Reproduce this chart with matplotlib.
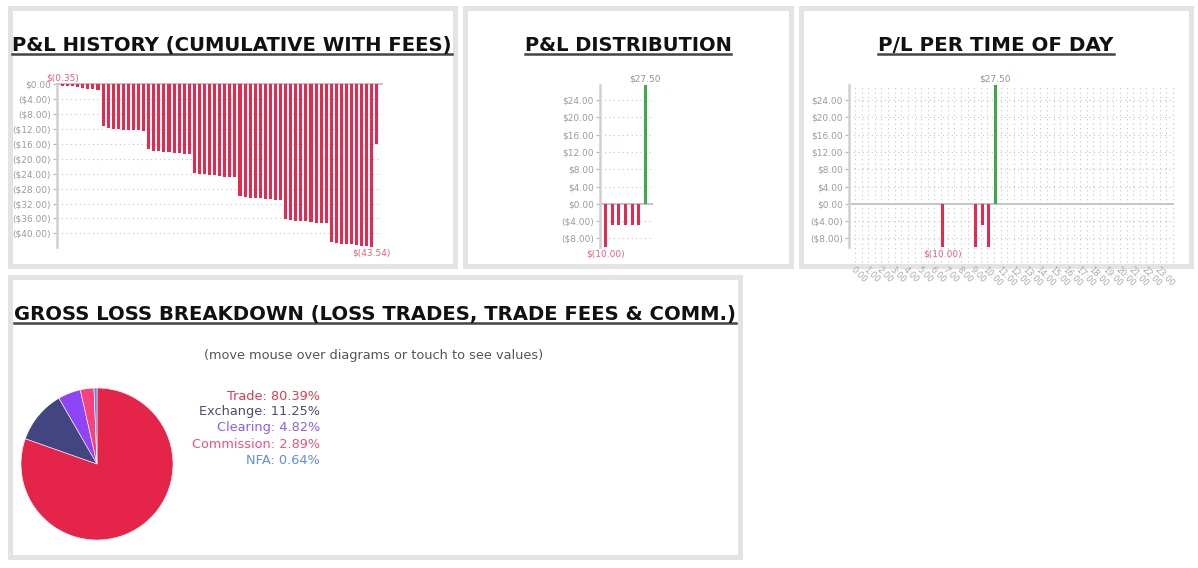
import matplotlib
matplotlib.use('Agg')
import matplotlib.pyplot as plt
import numpy as np
from matplotlib.patches import Rectangle
from matplotlib.lines import Line2D
from matplotlib.ticker import FuncFormatter

# cumulative P&L with fees, one value per trade/fee event
cum_pnl = [
    -0.35, -0.45, -0.55, -0.75, -1.05, -1.15, -1.25, -1.40,
    -11.30, -11.70, -11.90, -11.95, -12.15, -12.30, -12.35, -12.40, -12.45,
    -17.50, -17.80, -18.00, -18.10, -18.20, -18.40, -18.50, -18.60, -18.70,
    -23.80, -24.10, -24.20, -24.30, -24.40, -24.60, -24.80, -24.90, -24.90,
    -30.05, -30.20, -30.40, -30.40, -30.50, -30.80, -30.90, -31.10, -31.10,
    -36.20, -36.50, -36.70, -36.70, -36.80, -37.00, -37.20, -37.30, -37.30,
    -42.40, -42.70, -42.75, -42.80, -42.90, -43.20, -43.35, -43.45, -43.54,
    -16.04,
]
hist_ticks = [0, -4, -8, -12, -16, -20, -24, -28, -32, -36, -40]

dist_values = [-10.0, -5.0, -5.0, -5.0, -5.0, -5.0, 27.5]

tod_hours = [6.5, 9.0, 9.5, 10.0, 10.5]
tod_values = [-10.0, -10.0, -5.0, -10.0, 27.5]
hour_labels = [f'{h}:00' for h in range(24)]
pl_ticks = [-8, -4, 0, 4, 8, 12, 16, 20, 24]

loss_names = ['Trade', 'Exchange', 'Clearing', 'Commission', 'NFA']
loss_pcts = [80.39, 11.25, 4.82, 2.89, 0.64]
loss_colors = ['#e5244a', '#424580', '#8d45f6', '#f7437c', '#4b8ef2']
loss_text_colors = ['#e03a52', '#4a4b78', '#8b5cf6', '#f0507e', '#5b8cf0']

RED = '#e8294f'
GREEN = '#3aab48'
W, H = 1198, 568

fig = plt.figure(figsize=(W / 100, H / 100), dpi=100)
fig.patch.set_facecolor('white')


def px_axes(x0, y0, x1, y1):
    return fig.add_axes([x0 / W, 1 - y1 / H, (x1 - x0) / W, (y1 - y0) / H])


def money_tick(v, pos=None):
    if abs(v) < 1e-9:
        return '$0.00'
    return f'${v:.2f}' if v > 0 else f'(${-v:.2f})'


def money_label(v):
    return f'${v:.2f}' if v >= 0 else f'$({-v:.2f})'


# panel frames
panels = [(7, 5, 457, 268), (462, 5, 793, 268), (798, 5, 1193, 268), (7, 274, 742, 559)]
for x0, y0, x1, y1 in panels:
    fig.add_artist(Rectangle(((x0 + 2.5) / W, 1 - (y1 - 2.5) / H),
                             (x1 - x0 - 5) / W, (y1 - y0 - 5) / H,
                             transform=fig.transFigure, fill=False,
                             ec='#e3e3e3', lw=3.6, zorder=-5))

renderer = fig.canvas.get_renderer()


def title(text, cx, baseline, width):
    t = fig.text(cx / W, 1 - baseline / H, text, ha='center', va='baseline',
                 fontweight='bold', fontsize=14, color='#111111')
    bb = t.get_window_extent(renderer)
    t.set_fontsize(14 * width / bb.width)
    bb = t.get_window_extent(renderer)
    y = 1 - (baseline + 2.5) / H
    fig.add_artist(Line2D([bb.x0 / W, bb.x1 / W], [y, y], transform=fig.transFigure,
                          color='#444444', lw=1.8))


def style(ax, yticks):
    for s in ['top', 'right', 'bottom']:
        ax.spines[s].set_visible(False)
    ax.spines['left'].set_color('#cfcfd6')
    ax.spines['left'].set_linewidth(1.8)
    ax.set_yticks(yticks)
    ax.yaxis.set_major_formatter(FuncFormatter(money_tick))
    ax.tick_params(axis='y', length=3, width=0.9, color='#b8b8c0', labelsize=6.5,
                   labelcolor='#9a9aa4', pad=1.5)
    ax.grid(axis='y', color='#c4c4c4', linestyle=(0, (1, 3)), lw=0.8)
    ax.axhline(0, color='#c4c4c4', lw=1.4, clip_on=False, zorder=1)
    ax.set_facecolor('none')
    ax.set_axisbelow(True)


# P&L history
title('P&L HISTORY (CUMULATIVE WITH FEES)', 232, 51, 440)
ax1 = px_axes(57, 84.3, 382, 246.5)
style(ax1, hist_ticks)
idx = np.arange(len(cum_pnl))
ax1.bar(idx, cum_pnl, width=0.6, color=RED, zorder=2)
ax1.set_xlim(-1.08, 63)
ax1.set_ylim(min(cum_pnl), 0)
ax1.set_xticks([])
imax, imin = int(np.argmax(cum_pnl)), int(np.argmin(cum_pnl))
ax1.annotate(money_label(cum_pnl[imax]), (imax, 0), xytext=(0, 1), textcoords='offset points',
             ha='center', va='bottom', fontsize=6.5, color='#e8607a', annotation_clip=False)
ax1.annotate(money_label(cum_pnl[imin]), (imin, cum_pnl[imin]), xytext=(0, -1.5),
             textcoords='offset points', ha='center', va='top', fontsize=6.5,
             color='#e8607a', annotation_clip=False)

# P&L distribution
title('P&L DISTRIBUTION', 628, 51, 207)
ax2 = px_axes(600, 85, 652, 247)
style(ax2, pl_ticks)
dx = np.arange(len(dist_values))
ax2.bar(dx, dist_values, width=0.45, zorder=2,
        color=[GREEN if v > 0 else RED for v in dist_values])
ax2.set_xlim(-0.86, 7.0)
ax2.set_ylim(-10, 27.5)
ax2.set_xticks([])
jmax, jmin = int(np.argmax(dist_values)), int(np.argmin(dist_values))
ax2.annotate(money_label(dist_values[jmax]), (jmax, dist_values[jmax]), xytext=(0, 1),
             textcoords='offset points', ha='center', va='bottom', fontsize=6.5,
             color='#8a9a88', annotation_clip=False)
ax2.annotate(money_label(dist_values[jmin]), (jmin, dist_values[jmin]), xytext=(0, -1.5),
             textcoords='offset points', ha='center', va='top', fontsize=6.5,
             color='#e8607a', annotation_clip=False)

# P/L per time of day
title('P/L PER TIME OF DAY', 996, 51, 235)
ax3 = px_axes(849, 85, 1173, 247)
style(ax3, pl_ticks)
ax3.set_xlim(-0.45, 24)
ax3.set_ylim(-10, 27.5)
ax3.vlines(np.arange(0, 24.5, 0.5), -13.5, 27.5, colors='#c4c4c4',
           linestyles=(0, (1, 3)), lw=0.8, clip_on=False, zorder=0)
ax3.bar(tod_hours, tod_values, width=0.2, align='edge', zorder=2,
        color=[GREEN if v > 0 else RED for v in tod_values])
ax3.set_xticks(range(24))
ax3.set_xticklabels(hour_labels, rotation=-45, ha='left', va='top', rotation_mode='anchor')
ax3.tick_params(axis='x', length=0, pad=13, labelsize=6, labelcolor='#a8a8b0')
kmax, kmin = int(np.argmax(tod_values)), int(np.argmin(tod_values))
ax3.annotate(money_label(tod_values[kmax]), (tod_hours[kmax] + 0.1, tod_values[kmax]),
             xytext=(0, 1), textcoords='offset points', ha='center', va='bottom',
             fontsize=6.5, color='#8a9a88', annotation_clip=False)
ax3.annotate(money_label(tod_values[kmin]), (tod_hours[kmin] + 0.1, tod_values[kmin]),
             xytext=(0, -1.5), textcoords='offset points', ha='center', va='top',
             fontsize=6.5, color='#e8607a', annotation_clip=False)

# gross loss breakdown
title('GROSS LOSS BREAKDOWN (LOSS TRADES, TRADE FEES & COMM.)', 375, 320, 724)
fig.text(374 / W, 1 - 356 / H, '(move mouse over diagrams or touch to see values)',
         ha='center', va='center', fontsize=9.3, color='#555555')
ax4 = px_axes(21, 388, 173, 540)
ax4.pie(loss_pcts, colors=loss_colors, startangle=90, counterclock=False,
        wedgeprops=dict(edgecolor='white', linewidth=0.4))
ax4.set_xlim(-1, 1)
ax4.set_ylim(-1, 1)
ax4.set_aspect('equal')
ax4.axis('off')
for i, (name, pct, c) in enumerate(zip(loss_names, loss_pcts, loss_text_colors)):
    fig.text(320 / W, 1 - (396 + 16 * i) / H, f'{name}: {pct:.2f}%', ha='right',
             va='center', fontsize=9.3, color=c)

fig.savefig('out.png', dpi=100)
